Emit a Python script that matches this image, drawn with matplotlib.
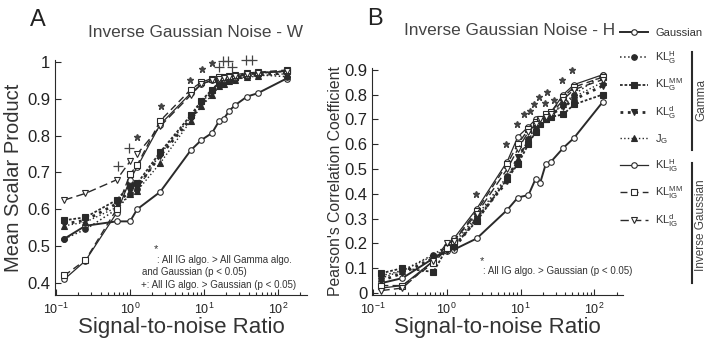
import matplotlib
matplotlib.use("Agg")
import matplotlib.pyplot as plt
from matplotlib.lines import Line2D

plt.rcParams["font.family"] = ["Liberation Sans", "DejaVu Sans"]
plt.rcParams["mathtext.default"] = "regular"

# signal-to-noise ratios (shared by both panels)
snr = [0.13, 0.25, 0.66, 1.0, 1.25, 2.55, 6.6, 9.2, 12.8, 16, 18.5, 22, 26, 38, 53, 130]

# panel A: mean scalar product (W)
gauss_w = [0.52, 0.555, 0.567, 0.567, 0.600, 0.647, 0.760, 0.788, 0.807, 0.840, 0.846, 0.868, 0.882, 0.906, 0.915, 0.955]
klgh_w = [0.52, 0.545, 0.600, 0.640, 0.655, 0.750, 0.850, 0.890, 0.920, 0.940, 0.945, 0.950, 0.955, 0.960, 0.965, 0.960]
klgmm_w = [0.57, 0.578, 0.625, 0.665, 0.670, 0.755, 0.855, 0.895, 0.925, 0.945, 0.950, 0.955, 0.958, 0.965, 0.970, 0.975]
klgd_w = [0.56, 0.570, 0.615, 0.650, 0.660, 0.745, 0.845, 0.885, 0.915, 0.935, 0.945, 0.950, 0.955, 0.960, 0.965, 0.970]
jg_w = [0.555, 0.565, 0.605, 0.640, 0.650, 0.725, 0.840, 0.880, 0.910, 0.935, 0.940, 0.948, 0.952, 0.958, 0.962, 0.968]
kligh_w = [0.41, 0.460, 0.590, 0.680, 0.715, 0.830, 0.915, 0.940, 0.950, 0.955, 0.955, 0.958, 0.960, 0.965, 0.970, 0.975]
kligmm_w = [0.42, 0.462, 0.600, 0.695, 0.720, 0.840, 0.925, 0.945, 0.955, 0.958, 0.960, 0.962, 0.965, 0.970, 0.972, 0.978]
kligd_w = [0.625, 0.643, 0.680, 0.730, 0.750, 0.825, 0.910, 0.940, 0.950, 0.955, 0.957, 0.960, 0.962, 0.968, 0.970, 0.975]

# panel B: Pearson's correlation (H)
gauss_h = [0.04, 0.06, 0.14, 0.17, 0.175, 0.22, 0.335, 0.385, 0.395, 0.46, 0.445, 0.52, 0.53, 0.585, 0.625, 0.77]
klgh_h = [0.07, 0.09, 0.155, 0.19, 0.20, 0.31, 0.47, 0.53, 0.62, 0.67, 0.69, 0.71, 0.72, 0.76, 0.80, 0.88]
klgmm_h = [0.08, 0.10, 0.085, 0.18, 0.19, 0.29, 0.46, 0.52, 0.60, 0.65, 0.68, 0.70, 0.71, 0.72, 0.76, 0.80]
klgd_h = [0.05, 0.08, 0.14, 0.17, 0.18, 0.30, 0.45, 0.55, 0.61, 0.66, 0.68, 0.70, 0.72, 0.75, 0.78, 0.835]
jg_h = [0.06, 0.09, 0.15, 0.18, 0.19, 0.30, 0.46, 0.54, 0.62, 0.66, 0.69, 0.70, 0.72, 0.76, 0.79, 0.85]
kligh_h = [0.02, 0.03, 0.13, 0.19, 0.22, 0.34, 0.53, 0.63, 0.67, 0.70, 0.70, 0.72, 0.73, 0.80, 0.84, 0.88]
kligmm_h = [0.03, 0.03, 0.12, 0.18, 0.21, 0.33, 0.52, 0.60, 0.66, 0.69, 0.70, 0.72, 0.73, 0.79, 0.83, 0.87]
kligd_h = [0.01, 0.02, 0.13, 0.20, 0.21, 0.32, 0.50, 0.58, 0.65, 0.68, 0.70, 0.71, 0.72, 0.78, 0.82, 0.86]

# significance marks
star_w_x = [1.24, 2.6, 6.5, 9.3, 12.9]
star_w_y = [0.795, 0.88, 0.952, 0.98, 0.997]
plus_w_x = [0.69, 0.98, 16, 18, 21, 24, 37, 45]
plus_w_y = [0.717, 0.766, 0.985, 1.003, 1.003, 0.985, 1.006, 1.006]
star_h_x = [2.5, 6.3, 8.9, 11.3, 13.6, 15.3, 17.8, 21.5, 23, 28, 37, 50]
star_h_y = [0.40, 0.60, 0.68, 0.72, 0.735, 0.76, 0.79, 0.765, 0.81, 0.78, 0.86, 0.90]

labels = ["Gaussian", r"KL$^{H}_{G}$", r"KL$^{MM}_{G}$", r"KL$^{d}_{G}$", r"J$_{G}$",
          r"KL$^{H}_{IG}$", r"KL$^{MM}_{IG}$", r"KL$^{d}_{IG}$"]
INK = "#2a2a2a"
styles = [
    dict(ls="-", lw=1.4, marker="o", mfc="white"),
    dict(ls=":", lw=1.1, marker="o", mfc=INK),
    dict(ls=(0, (1.5, 1)), lw=1.3, marker="s", mfc=INK),
    dict(ls=":", lw=2.0, marker="v", mfc=INK),
    dict(ls=":", lw=1.0, marker="^", mfc=INK),
    dict(ls="-", lw=0.9, marker="o", mfc="white"),
    dict(ls=(0, (5, 3)), lw=1.0, marker="s", mfc="white"),
    dict(ls=(0, (6, 3)), lw=1.0, marker="v", mfc="white"),
]

fig = plt.figure(figsize=(7.07, 3.38), dpi=100)
axA = fig.add_axes([0.0778, 0.1272, 0.3564, 0.695])
axB = fig.add_axes([0.5262, 0.1272, 0.355, 0.6716])


def draw(ax, series):
    hs = []
    for ys, st, lab in zip(series, styles, labels):
        h, = ax.plot(snr, ys, color=INK, ms=4, mec=INK, mew=0.8, label=lab, **st)
        hs.append(h)
    ax.set_xscale("log")
    ax.set_xlim(0.097, 245)
    ax.set_xticks([0.1, 1, 10, 100])
    ax.set_xticklabels([r"$10^{-1}$", r"$10^{0}$", r"$10^{1}$", r"$10^{2}$"], fontsize=9)
    ax.tick_params(which="both", direction="in", color=INK, width=0.8)
    ax.tick_params(which="major", length=4, labelcolor="#222")
    ax.tick_params(axis="x", which="major", pad=5)
    ax.tick_params(which="minor", length=2)
    for s in ["top", "right"]:
        ax.spines[s].set_visible(False)
    for s in ["left", "bottom"]:
        ax.spines[s].set_color(INK)
    return hs


draw(axA, [gauss_w, klgh_w, klgmm_w, klgd_w, jg_w, kligh_w, kligmm_w, kligd_w])
axA.set_ylim(0.367, 1.005)
axA.set_yticks([0.4, 0.5, 0.6, 0.7, 0.8, 0.9, 1.0])
axA.set_yticklabels(["0.4", "0.5", "0.6", "0.7", "0.8", "0.9", "1"], fontsize=12)
axA.plot(star_w_x, star_w_y, ls="none", marker="*", ms=5, color="#444", clip_on=False)
axA.plot(plus_w_x, plus_w_y, ls="none", marker="+", ms=7, mew=0.9, color="#444", clip_on=False)
axA.set_ylabel("Mean Scalar Product", fontsize=14.5, color="#333", labelpad=3)
axA.set_xlabel("Signal-to-noise Ratio", fontsize=16, color="#333", labelpad=0)
axA.text(0.393, 0.195, "*", transform=axA.transAxes, fontsize=8, color="#333", ha="left", va="center")
axA.text(0.405, 0.150, ": All IG algo. > All Gamma algo.", transform=axA.transAxes,
         fontsize=7, color="#333", va="center")
axA.text(0.345, 0.098, "and Gaussian (p < 0.05)", transform=axA.transAxes,
         fontsize=7, color="#333", va="center")
axA.text(0.341, 0.043, "+: All IG algo. > Gaussian (p < 0.05)", transform=axA.transAxes,
         fontsize=7, color="#333", va="center")

hB = draw(axB, [gauss_h, klgh_h, klgmm_h, klgd_h, jg_h, kligh_h, kligmm_h, kligd_h])
axB.set_ylim(-0.008, 0.907)
axB.set_yticks([0, 0.1, 0.2, 0.3, 0.4, 0.5, 0.6, 0.7, 0.8, 0.9])
axB.set_yticklabels(["0", "0.1", "0.2", "0.3", "0.4", "0.5", "0.6", "0.7", "0.8", "0.9"], fontsize=12)
axB.plot(star_h_x, star_h_y, ls="none", marker="*", ms=5, color="#444", clip_on=False)
axB.set_ylabel("Pearson's Correlation Coefficient", fontsize=11.3, color="#333", labelpad=1)
axB.set_xlabel("Signal-to-noise Ratio", fontsize=16, color="#333", labelpad=0)
axB.text(0.43, 0.15, "*", transform=axB.transAxes, fontsize=8, color="#333", ha="left", va="center")
axB.text(0.442, 0.106, ": All IG algo. > Gaussian (p < 0.05)", transform=axB.transAxes,
         fontsize=7, color="#333", va="center")

# titles and panel letters
fig.text(0.276, 0.905, "Inverse Gaussian Noise - W", fontsize=12.4, color="#444", ha="center", va="center")
fig.text(0.721, 0.911, "Inverse Gaussian Noise - H", fontsize=12.4, color="#444", ha="center", va="center")
fig.text(0.042, 0.94, "A", fontsize=17, color="#222", ha="left", va="center")
fig.text(0.519, 0.944, "B", fontsize=17, color="#222", ha="left", va="center")

# legend
fig.legend(handles=hB, labels=labels, loc="upper left", bbox_to_anchor=(0.870, 0.93),
           frameon=False, fontsize=8, handlelength=2.6, handletextpad=0.6,
           labelspacing=0.98, borderaxespad=0, labelcolor="#333")

# group brackets
fig.add_artist(Line2D([692 / 707, 692 / 707], [1 - 52 / 338, 1 - 150 / 338], color=INK, lw=1.5))
fig.add_artist(Line2D([692 / 707, 692 / 707], [1 - 163 / 338, 1 - 283 / 338], color=INK, lw=1.5))
fig.text(1.0, 1 - 100 / 338, "Gamma", rotation=90, fontsize=8.5, color="#444", ha="right", va="center")
fig.text(1.0, 1 - 225 / 338, "Inverse Gaussian", rotation=90, fontsize=8.5, color="#444",
         ha="right", va="center")

fig.savefig("out.png", dpi=100)
